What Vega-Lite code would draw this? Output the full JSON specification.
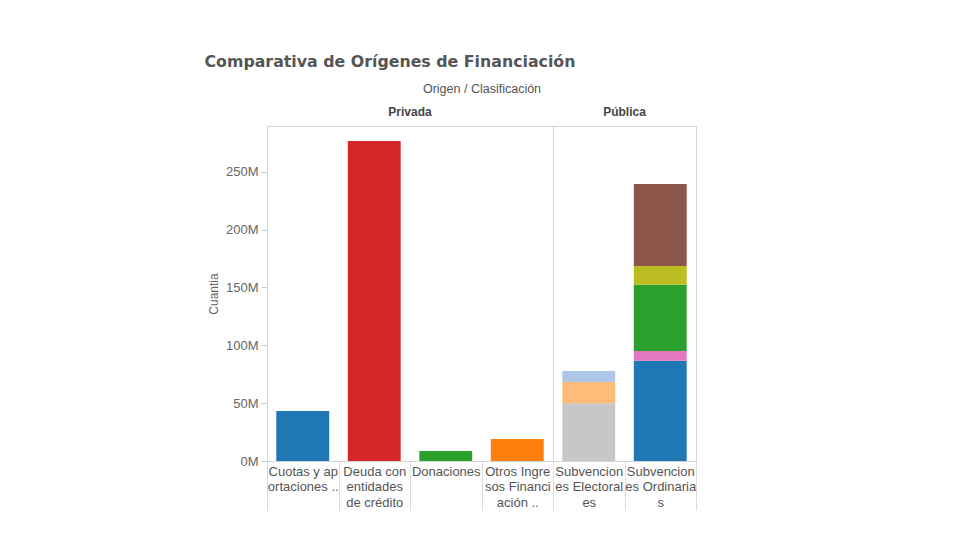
{
  "$schema": "https://vega.github.io/schema/vega-lite/v6.json",
  "padding": {"left": 204, "top": 53, "right": 5, "bottom": 5},
  "title": {
    "text": "Comparativa de Orígenes de Financiación",
    "anchor": "start",
    "frame": "bounds",
    "font": "DejaVu Sans",
    "fontSize": 15.8,
    "fontWeight": "bold",
    "color": "#555555",
    "dx": -3,
    "offset": 12
  },
  "data": {
    "values": [
      {"Origen": "Privada", "Clasificacion": "Cuotas y aportaciones", "Tipo": "Cuotas", "Orden": 1, "Cuantia": 43200000},
      {"Origen": "Privada", "Clasificacion": "Deuda con entidades de crédito", "Tipo": "Deuda", "Orden": 1, "Cuantia": 276600000},
      {"Origen": "Privada", "Clasificacion": "Donaciones", "Tipo": "Donaciones", "Orden": 1, "Cuantia": 8600000},
      {"Origen": "Privada", "Clasificacion": "Otros Ingresos Financiación", "Tipo": "Otros", "Orden": 1, "Cuantia": 19000000},
      {"Origen": "Pública", "Clasificacion": "Subvenciones Electorales", "Tipo": "Electorales 1", "Orden": 1, "Cuantia": 49900000},
      {"Origen": "Pública", "Clasificacion": "Subvenciones Electorales", "Tipo": "Electorales 2", "Orden": 2, "Cuantia": 18400000},
      {"Origen": "Pública", "Clasificacion": "Subvenciones Electorales", "Tipo": "Electorales 3", "Orden": 3, "Cuantia": 9500000},
      {"Origen": "Pública", "Clasificacion": "Subvenciones Ordinarias", "Tipo": "Ordinarias 1", "Orden": 1, "Cuantia": 86700000},
      {"Origen": "Pública", "Clasificacion": "Subvenciones Ordinarias", "Tipo": "Ordinarias 2", "Orden": 2, "Cuantia": 8400000},
      {"Origen": "Pública", "Clasificacion": "Subvenciones Ordinarias", "Tipo": "Ordinarias 3", "Orden": 3, "Cuantia": 57300000},
      {"Origen": "Pública", "Clasificacion": "Subvenciones Ordinarias", "Tipo": "Ordinarias 4", "Orden": 4, "Cuantia": 16100000},
      {"Origen": "Pública", "Clasificacion": "Subvenciones Ordinarias", "Tipo": "Ordinarias 5", "Orden": 5, "Cuantia": 70900000}
    ]
  },
  "facet": {
    "column": {
      "field": "Origen",
      "type": "nominal",
      "title": "Origen  /  Clasificación",
      "header": {
        "titleFont": "Liberation Sans",
        "titleFontSize": 12.5,
        "titleFontWeight": "normal",
        "titleColor": "#555555",
        "titlePadding": 1,
        "labelFont": "Liberation Sans",
        "labelFontSize": 12,
        "labelFontWeight": "bold",
        "labelColor": "#444444",
        "labelPadding": 7
      }
    }
  },
  "spacing": 0,
  "bounds": "flush",
  "spec": {
    "width": {"step": 71.5},
    "height": 335,
    "mark": {"type": "bar", "width": {"band": 0.74}},
    "encoding": {
      "x": {
        "field": "Clasificacion",
        "type": "nominal",
        "sort": null,
        "title": null,
        "scale": {"paddingInner": 0, "paddingOuter": 0},
        "axis": {
          "domain": false,
          "labelAngle": 0,
          "labelAlign": "center",
          "labelBaseline": "top",
          "labelFont": "Liberation Sans",
          "labelFontSize": 13,
          "labelColor": "#555555",
          "labelLineHeight": 15.5,
          "labelPadding": -45,
          "labelLimit": 80,
          "tickBand": "extent",
          "tickSize": 49,
          "tickColor": "#dddddd",
          "labelExpr": "datum.value == 'Cuotas y aportaciones' ? ['Cuotas y ap', 'ortaciones ..'] : datum.value == 'Deuda con entidades de crédito' ? ['Deuda con', 'entidades', 'de crédito'] : datum.value == 'Donaciones' ? 'Donaciones' : datum.value == 'Otros Ingresos Financiación' ? ['Otros Ingre', 'sos Financi', 'ación ..'] : datum.value == 'Subvenciones Electorales' ? ['Subvencion', 'es Electoral', 'es'] : datum.value == 'Subvenciones Ordinarias' ? ['Subvencion', 'es Ordinaria', 's'] : ''"
        }
      },
      "y": {
        "field": "Cuantia",
        "type": "quantitative",
        "aggregate": "sum",
        "title": "Cuantia",
        "scale": {"domain": [0, 289500000], "nice": false},
        "axis": {
          "values": [0, 50000000, 100000000, 150000000, 200000000, 250000000],
          "labelExpr": "format(datum.value / 1000000, 'd') + 'M'",
          "grid": false,
          "domain": false,
          "tickColor": "#cccccc",
          "tickSize": 6,
          "labelFont": "Liberation Sans",
          "labelFontSize": 13,
          "labelColor": "#666666",
          "labelPadding": 3,
          "titleFont": "Liberation Sans",
          "titleFontSize": 12,
          "titleFontWeight": "normal",
          "titleColor": "#666666",
          "titlePadding": 5
        }
      },
      "color": {
        "field": "Tipo",
        "type": "nominal",
        "legend": null,
        "scale": {
          "domain": ["Cuotas", "Deuda", "Donaciones", "Otros", "Electorales 1", "Electorales 2", "Electorales 3", "Ordinarias 1", "Ordinarias 2", "Ordinarias 3", "Ordinarias 4", "Ordinarias 5"],
          "range": ["#1f77b4", "#d62728", "#2ca02c", "#ff7f0e", "#c7c7c7", "#ffbb78", "#aec7e8", "#1f77b4", "#e377c2", "#2ca02c", "#bcbd22", "#8c564b"]
        }
      },
      "order": {"field": "Orden", "type": "quantitative"}
    }
  },
  "resolve": {"scale": {"x": "independent"}},
  "config": {
    "font": "Liberation Sans",
    "view": {"stroke": "#d4d4d4", "strokeWidth": 1}
  }
}
